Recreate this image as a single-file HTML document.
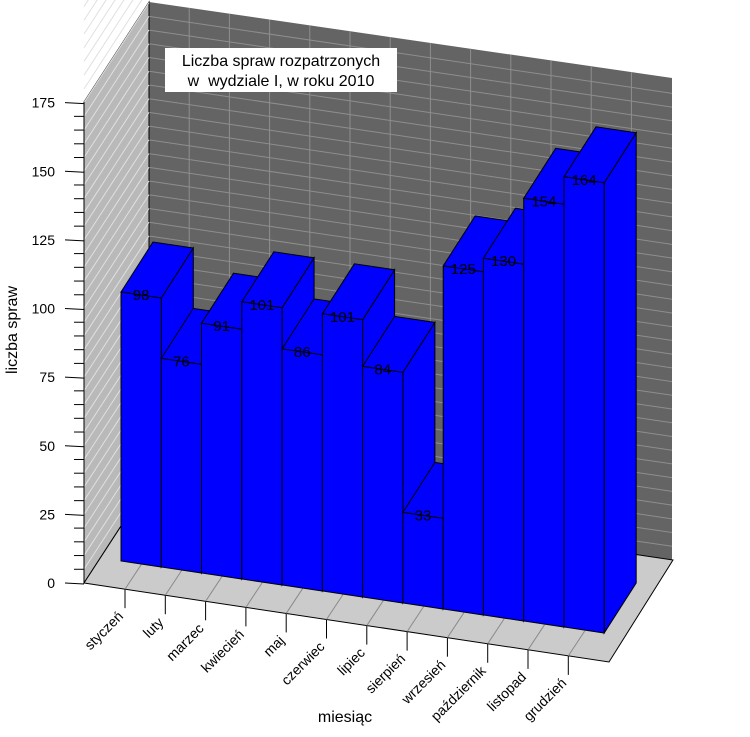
<!DOCTYPE html>
<html><head><meta charset="utf-8"><style>
html,body{margin:0;padding:0;background:#fff;}
svg{display:block;font-family:"Liberation Sans",sans-serif;}
</style></head><body>
<svg id="chart" width="750" height="737" viewBox="0 0 750 737" xmlns="http://www.w3.org/2000/svg">
<polygon points="149,2 672,78 672,560 149,483" fill="#646464"/>
<g id="backgrid"></g>
<polygon points="84,102 149,2 149,483 84,583" fill="#b9b9b9" stroke="#000" stroke-width="1"/>
<g id="lefthatch"></g>
<polygon points="84,583 609,662 673,560 149,483" fill="#cbcbcb" stroke="#000" stroke-width="1"/>
<g id="floorgrid"></g>
<rect x="165" y="48" width="232" height="44" fill="#fff"/>
<text x="281" y="66" font-size="16" text-anchor="middle">Liczba spraw rozpatrzonych</text>
<text x="281" y="86" font-size="16" text-anchor="middle" xml:space="preserve">w  wydziale I, w roku 2010</text>
<line x1="84" y1="102" x2="84" y2="583" stroke="#000"/>
<g id="yaxis"></g>
<g id="xaxis"></g>
<g id="bars"></g>
<text transform="translate(17,330) rotate(-90)" font-size="16" text-anchor="middle">liczba spraw</text>
<text x="345" y="722" font-size="16" text-anchor="middle">miesiąc</text>
</svg>
<script>
const categories = ["styczeń","luty","marzec","kwiecień","maj","czerwiec","lipiec","sierpień","wrzesień","październik","listopad","grudzień"];
const values = [98,76,91,101,86,101,84,33,125,130,154,164];
const yTicks = [0,25,50,75,100,125,150,175];
const yMax = 175;

const NS = "http://www.w3.org/2000/svg";
function mk(tag, attrs, parent){const e=document.createElementNS(NS,tag);for(const k in attrs)e.setAttribute(k,attrs[k]);parent.appendChild(e);return e;}
const K = 2.745;                 // px per unit
const BW = 40.27;                // bar width
const DX = 32, DY = -50;         // bar depth
function xL(i){return 121 + BW*i;}
function botY(x){return 561 + (x-121)*0.149;}
function yAxis(v){return 583 - v*K;}
function pts(a){return a.map(p=>p[0].toFixed(1)+","+p[1].toFixed(1)).join(" ");}

// back wall grid
const bg = document.getElementById("backgrid");
for(let v=5; v<yMax; v+=5){
  const l = mk("line",{x1:149,y1:483-v*K,x2:672,y2:560-v*K,stroke:"#8e8e8e","stroke-width":1},bg);
  
  
}
for(let i=1;i<13;i++){
  const x = 149 + i*40.2; if(x>=672) break;
  const yb = 483 + (x-149)*0.1472, yt = 2 + (x-149)*0.1453;
  const l = mk("line",{x1:x,y1:yt,x2:x,y2:yb,stroke:"#8e8e8e","stroke-width":1},bg);
  
  
}
// left wall hatch
const lh = document.getElementById("lefthatch");
for(let v=5; v<=yMax+35; v+=5){
  let y0 = yAxis(v);
  const l = mk("line",{x1:84,y1:y0,x2:149,y2:y0-100,stroke:"#e0e0e0","stroke-width":1},lh);
  
  
}
// y axis ticks
const ya = document.getElementById("yaxis");
for(let v=0; v<=yMax; v+=5){
  const major = v%25===0;
  const t = mk("line",{x1:major?65:74,y1:yAxis(v),x2:84,y2:yAxis(v)+(major?1:0),stroke:"#000"},ya);
  
  
}
yTicks.forEach(v=>{
  const t = mk("text",{x:55,y:yAxis(v)+5,"font-size":14,"text-anchor":"end"},ya);
  t.textContent = v;
  
  
});
// x axis ticks, floor grid, labels
const xa = document.getElementById("xaxis"), fg = document.getElementById("floorgrid");
categories.forEach((c,i)=>{
  const tx = 125 + 40.3*i, ty = 583 + (tx-84)*0.1505;
  const g = mk("line",{x1:tx,y1:ty,x2:tx+16.5,y2:ty-25,stroke:"#8a8a8a"},fg);
  
  
  const t = mk("line",{x1:tx,y1:ty,x2:tx,y2:ty+19,stroke:"#000"},xa);
  
  
  const lb = mk("text",{transform:`translate(${tx-1},${ty+28}) rotate(-45)`,"font-size":14,"text-anchor":"end"},xa);
  lb.textContent = c;
  
  
});
// bars
const bars = document.getElementById("bars");
values.forEach((v,i)=>{
  const x0 = xL(i), x1 = xL(i)+BW;
  const b0 = botY(x0), b1 = botY(x1);
  const t0 = b0 - v*K, t1 = b1 - v*K;
  const g = mk("g",{},bars);
  
  
  const side = mk("polygon",{points:pts([[x1,t1],[x1+DX,t1+DY],[x1+DX,b1+DY],[x1,b1]]),fill:"#0000ff",stroke:"#000","stroke-width":1},g);
  
  
  const top = mk("polygon",{points:pts([[x0,t0],[x0+DX,t0+DY],[x1+DX,t1+DY],[x1,t1]]),fill:"#0000ff",stroke:"#000","stroke-width":1},g);
  
  
  const front = mk("polygon",{points:pts([[x0,t0],[x1,t1],[x1,b1],[x0,b0]]),fill:"#0000ff",stroke:"#000","stroke-width":1},g);
  
  
  const lab = mk("text",{x:(x0+x1)/2,y:(t0+t1)/2+5,"font-size":15,"text-anchor":"middle",fill:"#000"},g);
  lab.textContent = v;
  
  
});
</script>
</body></html>
